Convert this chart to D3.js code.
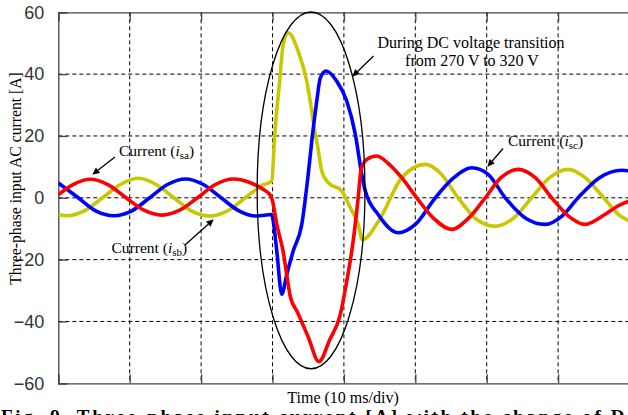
<!DOCTYPE html>
<html>
<head>
<meta charset="utf-8">
<script src="https://cdn.jsdelivr.net/npm/d3@7.9.0/dist/d3.min.js"></script>
<style>
  body { margin: 0; background: #fff; }
  svg { display: block; }
</style>
</head>
<body>
<svg id="chart" width="628" height="415"></svg>
<script>
// -------------------------
// Data (time in ms, current in A)
// -------------------------
const yTicks = [60, 40, 20, 0, -20, -40, -60];
const xDivs = [0, 10, 20, 30, 40, 50, 60, 70, 80];

// phase a (red)
const isa = [
  [0, 1.0], [2, 4.2], [4.5, 6.0], [7, 4.2], [9.5, 0], [12, -4.0], [14.5, -5.6],
  [17, -4.0], [19.5, 0], [22, 4.3], [24.5, 6.1], [27, 4.8], [28.5, 3.0], [29.8, 0.5],
  [30.0, -1], [30.6, -8.6], [31.5, -17.5], [32.0, -25], [32.5, -32], [33.5, -37],
  [35, -45], [36.5, -53], [38, -46], [39.5, -37.7], [40.4, -27], [41.3, -14],
  [42, 0], [42.4, 9], [43.2, 12.4], [44.6, 13.5], [46.5, 10.5], [48.1, 6.5],
  [50.2, 0], [52.5, -6.5], [55.1, -10.2], [57.5, -6.5], [59.8, 0], [62, 6.5],
  [64.4, 9.2], [66.8, 6.5], [69.1, 0], [71.5, -6], [73.8, -8.6], [76.5, -5.5],
  [78.5, -2.5], [80, -1]
];

// phase b (yellow)
const isb = [
  [0, -5.4], [1.2, -5.8], [3.5, -4.4], [6.2, 0], [8.7, 4.3], [11.2, 6.3], [13.7, 4.3],
  [16.2, 0], [18.7, -4.3], [21.2, -5.9], [23.7, -4.2], [26.2, 0], [28.5, 4.0],
  [29.9, 5.4], [30.3, 20], [31, 37.7], [31.5, 49.6], [32.2, 53.4], [33.6, 47.4],
  [34.8, 37.7], [35.5, 28], [36, 20.5], [36.3, 17], [36.9, 8.6], [37.8, 4.9],
  [39.7, 2.2], [40.9, -3.2], [42, -8.6], [42.6, -13.5], [45, -7], [48.1, 6.5],
  [51.4, 10.8], [53.5, 8], [56, 0], [58.6, -7], [61.2, -9.2], [63.8, -6.5],
  [66.3, 0], [68.8, 6.5], [71.4, 9.2], [73.8, 6.5], [76.2, 0.5], [78.5, -5.5], [80, -7.5]
];

// phase c (blue)
const isc = [
  [0, 4.8], [2.8, 0], [5.3, -4.3], [7.8, -5.8], [10.3, -4.2], [12.8, 0], [15.3, 4.3],
  [17.8, 6.1], [20.3, 4.3], [22.8, 0], [25.3, -4.2], [27.8, -5.9], [29.9, -5.4],
  [30.1, -7.5], [30.6, -17.2], [31.3, -31.2], [32, -24.8], [32.9, -17.2], [34.1, -8.6],
  [35, 7.6], [35.5, 18.3], [36.2, 31.3], [36.7, 38.8], [37.5, 41], [39, 37.7],
  [40.4, 31.3], [41.6, 20.5], [42.5, 7.6], [43, 2.2], [44.8, -5.4], [47.6, -11.3],
  [50, -8.6], [52.8, 0], [55.4, 6.5], [57.9, 9.7], [60.2, 7.6], [62.6, 0],
  [65.4, -6.5], [68.2, -8.6], [70.5, -6], [72.8, 0], [75.8, 6.5], [78.9, 8.9], [80, 8.7]
];

const series = [
  { name: 'b', data: isb, color: '#c8c800' },
  { name: 'c', data: isc, color: '#0000ff' },
  { name: 'a', data: isa, color: '#ff0000' }
];

// highlight ellipse (centre time, centre current, half width ms, half height A)
const ellipseSpec = [35.4, 2.4, 7.55, 57.7];

// -------------------------
// Layout
// -------------------------
const svg = d3.select('#chart');
const plotL = 58.3, plotR = 629.5, plotT = 12.3, plotB = 383.3;

const x = d3.scaleLinear().domain([0, 80]).range([plotL, plotR]);
const y = d3.scaleLinear().domain([-60, 60]).range([plotB, plotT]);

const defs = svg.append('defs');
defs.append('clipPath').attr('id', 'plotClip')
  .append('rect').attr('x', plotL).attr('y', plotT)
  .attr('width', plotR - plotL).attr('height', plotB - plotT);

defs.append('marker')
  .attr('id', 'arrow').attr('viewBox', '0 0 10 10')
  .attr('refX', 9).attr('refY', 5)
  .attr('markerWidth', 9).attr('markerHeight', 7)
  .attr('markerUnits', 'userSpaceOnUse')
  .attr('orient', 'auto')
  .append('path').attr('d', 'M0,0 L10,5 L0,10 z').attr('fill', '#000');

// grid
const grid = svg.append('g');
xDivs.slice(1, -1).forEach(d => {
  grid.append('line')
    .attr('x1', x(d)).attr('x2', x(d)).attr('y1', plotT).attr('y2', plotB)
    .attr('stroke', '#000').attr('stroke-width', 1).attr('stroke-dasharray', '4,3');
});
yTicks.slice(1, -1).forEach(d => {
  grid.append('line')
    .attr('x1', plotL).attr('x2', plotR).attr('y1', y(d)).attr('y2', y(d))
    .attr('stroke', '#000').attr('stroke-width', 1).attr('stroke-dasharray', '4,3');
});

// axes (inward ticks, MATLAB look)
const axisColor = '#444';
const yAxis = svg.append('g').attr('transform', `translate(${plotL},0)`)
  .call(d3.axisLeft(y).tickValues(yTicks).tickSize(-9).tickPadding(14));
const xAxis = svg.append('g').attr('transform', `translate(0,${plotB})`)
  .call(d3.axisBottom(x).tickValues(xDivs).tickSize(-9).tickFormat(''));
const xTop = svg.append('g').attr('transform', `translate(0,${plotT})`)
  .call(d3.axisTop(x).tickValues(xDivs).tickSize(-9).tickFormat(''));
[yAxis, xAxis, xTop].forEach(g => {
  g.select('.domain').attr('stroke', axisColor).attr('stroke-width', 1.3);
  g.selectAll('.tick line').attr('stroke', axisColor).attr('stroke-width', 1.3);
});
yAxis.selectAll('.tick text')
  .attr('font-family', 'Liberation Sans, Arial, sans-serif')
  .attr('font-size', 18).attr('fill', '#333');

// curves
const line = d3.line()
  .x(d => x(d[0])).y(d => y(d[1]))
  .curve(d3.curveMonotoneX);

svg.append('g').attr('clip-path', 'url(#plotClip)')
  .selectAll('path').data(series).join('path')
  .attr('d', d => line(d.data))
  .attr('fill', 'none')
  .attr('stroke', d => d.color)
  .attr('stroke-width', 3.6)
  .attr('stroke-linejoin', 'round');

// ellipse
const [ecx, ecy, erx, ery] = ellipseSpec;
svg.append('ellipse')
  .attr('cx', x(ecx)).attr('cy', y(ecy))
  .attr('rx', x(ecx + erx) - x(ecx)).attr('ry', y(ecy - ery) - y(ecy))
  .attr('fill', 'none').attr('stroke', '#000').attr('stroke-width', 1.3);

// labels
const serif = 'Liberation Serif, Times New Roman, serif';

svg.append('text')
  .attr('transform', `translate(21,178.5) rotate(-90)`)
  .attr('text-anchor', 'middle')
  .attr('font-family', serif).attr('font-size', 15.7)
  .text('Three-phase input AC current [A]');

svg.append('text')
  .attr('x', 343).attr('y', 403)
  .attr('text-anchor', 'middle')
  .attr('font-family', serif).attr('font-size', 16)
  .text('Time (10 ms/div)');

const note = svg.append('text')
  .attr('text-anchor', 'middle')
  .attr('font-family', serif).attr('font-size', 16);
note.append('tspan').attr('x', 471).attr('y', 47.5).text('During DC voltage transition');
note.append('tspan').attr('x', 472).attr('y', 65.5).text('from 270 V to 320 V');

function currentLabel(tx, ty, sub) {
  const t = svg.append('text')
    .attr('x', tx).attr('y', ty)
    .attr('font-family', serif).attr('font-size', 15.5);
  t.append('tspan').text('Current (');
  t.append('tspan').attr('font-style', 'italic').text('i');
  t.append('tspan').attr('font-size', 11).attr('dy', 3).text(sub);
  t.append('tspan').attr('dy', -3).text(')');
}
currentLabel(119, 156, 'sa');
currentLabel(111.5, 253, 'sb');
currentLabel(508, 146, 'sc');

// arrows
const arrows = [
  [115, 157, 93, 174],
  [185, 245, 213, 220],
  [503, 148.5, 488, 166],
  [373.5, 56, 353, 76]
];
svg.append('g').selectAll('line').data(arrows).join('line')
  .attr('x1', d => d[0]).attr('y1', d => d[1])
  .attr('x2', d => d[2]).attr('y2', d => d[3])
  .attr('stroke', '#000').attr('stroke-width', 1.3)
  .attr('marker-end', 'url(#arrow)');

// caption (cut off at the bottom edge)
svg.append('text')
  .attr('x', 1).attr('y', 423)
  .attr('font-family', serif).attr('font-size', 19).attr('font-weight', 'bold')
  .attr('textLength', 640).attr('lengthAdjust', 'spacing')
  .text('Fig. 9.  Three-phase input current [A] with the change of DC');
</script>
</body>
</html>
